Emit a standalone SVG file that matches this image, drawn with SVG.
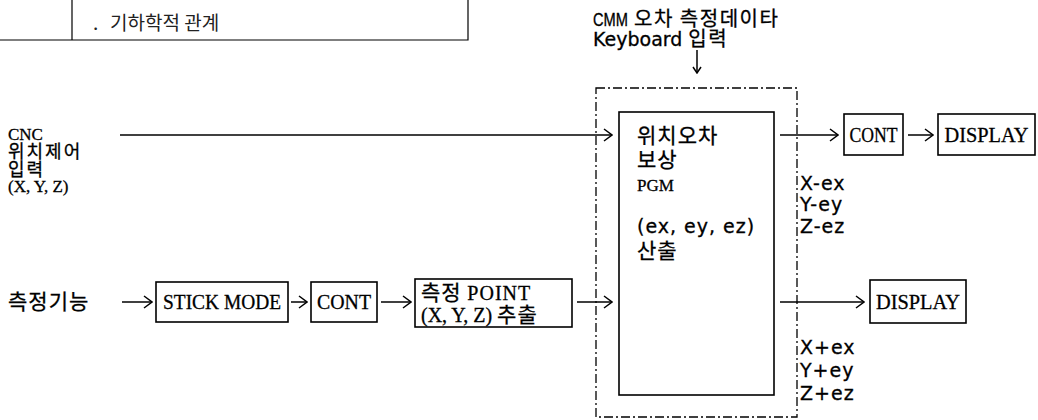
<svg xmlns="http://www.w3.org/2000/svg" width="1038" height="420" viewBox="0 0 1038 420">
<defs>
<marker id="ah" markerWidth="10" markerHeight="14" refX="9" refY="7" orient="auto" markerUnits="userSpaceOnUse">
<path d="M1,1 L9,7 L1,13" fill="none" stroke="#000" stroke-width="1.5"/>
</marker>
<marker id="ahs" markerWidth="8" markerHeight="10" refX="7" refY="5" orient="auto" markerUnits="userSpaceOnUse">
<path d="M1,1 L7,5 L1,9" fill="none" stroke="#000" stroke-width="1.5"/>
</marker>
</defs>
<style>
.bx{fill:#fff;stroke:#000;stroke-width:1.6}
.ln{fill:none;stroke:#000;stroke-width:1.5}
.thin{fill:none;stroke:#000;stroke-width:1.2}
.dash{fill:none;stroke:#000;stroke-width:1.3;stroke-dasharray:9 3 2 3}
text{stroke:#000;stroke-width:0.3}
.k{font-family:"Noto Sans CJK KR",sans-serif;font-size:21px;letter-spacing:1px;fill:#000}
.kc{font-family:"Noto Sans CJK KR",sans-serif;font-size:20px;letter-spacing:1.5px;fill:#000}
.ks{font-family:"Noto Sans CJK KR",sans-serif;font-size:18px;letter-spacing:2px;fill:#000}
.s{font-family:"Liberation Serif","Noto Sans CJK KR",serif;font-size:20px;fill:#000}
.sn{font-family:"Liberation Serif","Noto Sans CJK KR",serif;font-size:17px;fill:#000}
.m{font-family:"DejaVu Sans","Noto Sans CJK KR",sans-serif;font-size:19px;fill:#000}
.t{font-family:"Noto Sans CJK KR",sans-serif;font-size:19px;fill:#222;stroke:none}
</style>
<rect width="1038" height="420" fill="#fff"/>

<g id="legend">
<path class="thin" d="M0,40 H468 V0 M72,0 V40"/>
<text class="t" x="93" y="30">.</text>
<text class="t" x="110" y="30">기하학적 관계</text>
</g>

<g id="cmm-input">
<text class="m" x="593" y="26"><tspan font-family="Liberation Sans" font-size="18" textLength="35" lengthAdjust="spacingAndGlyphs">CMM</tspan> <tspan class="kc">오차 측정데이타</tspan></text>
<text class="m" x="593" y="46">Keyboard <tspan class="kc">입력</tspan></text>
</g>

<g id="cnc-input">
<text class="sn" x="8" y="140">CNC</text>
<text class="ks" x="8" y="158">위치제어</text>
<text class="ks" x="8" y="176">입력</text>
<text class="sn" x="8" y="192">(X, Y, Z)</text>
</g>

<g id="measure-func">
<text class="k" x="8" y="309" letter-spacing="3">측정기능</text>
</g>

<g id="stick-mode">
<rect class="bx" x="156" y="282" width="132" height="40"/>
<text class="s" x="222" y="309" text-anchor="middle" textLength="118" lengthAdjust="spacingAndGlyphs">STICK MODE</text>
</g>

<g id="cont-bottom">
<rect class="bx" x="311" y="282" width="66" height="40"/>
<text class="s" x="344" y="309" text-anchor="middle" textLength="54" lengthAdjust="spacingAndGlyphs">CONT</text>
</g>

<g id="measure-point">
<rect class="bx" x="415" y="279" width="157" height="48"/>
<text class="k" x="421" y="300">측정 <tspan class="s">POINT</tspan></text>
<text class="s" x="421" y="322">(X, Y, Z) <tspan class="k">추출</tspan></text>
</g>

<g id="compensation">
<rect class="dash" x="596" y="88" width="201" height="329"/>
<rect class="bx" x="619" y="112" width="155" height="283"/>
<text class="k" x="637" y="143">위치오차</text>
<text class="k" x="637" y="167">보상</text>
<text class="sn" x="637" y="191">PGM</text>
<text class="m" x="637" y="233" letter-spacing="1">(ex, ey, ez)</text>
<text class="k" x="637" y="258">산출</text>
</g>

<g id="cont-top">
<rect class="bx" x="844" y="114" width="59" height="41"/>
<text class="s" x="873.5" y="142" text-anchor="middle" textLength="48" lengthAdjust="spacingAndGlyphs">CONT</text>
</g>

<g id="display-top">
<rect class="bx" x="938" y="114" width="97" height="41"/>
<text class="s" x="986.5" y="142" text-anchor="middle" textLength="84" lengthAdjust="spacingAndGlyphs">DISPLAY</text>
</g>

<g id="display-bottom">
<rect class="bx" x="870" y="280" width="96" height="43"/>
<text class="s" x="918" y="309" text-anchor="middle" textLength="84" lengthAdjust="spacingAndGlyphs">DISPLAY</text>
</g>

<g id="output-minus">
<text class="m" x="800" y="190" letter-spacing="1">X-ex</text>
<text class="m" x="800" y="211" letter-spacing="1">Y-ey</text>
<text class="m" x="800" y="233" letter-spacing="1">Z-ez</text>
</g>

<g id="output-plus">
<text class="m" x="800" y="354" letter-spacing="1">X+ex</text>
<text class="m" x="800" y="377" letter-spacing="1">Y+ey</text>
<text class="m" x="800" y="400" letter-spacing="1">Z+ez</text>
</g>

<g id="connectors">
<line class="ln" x1="697" y1="50" x2="697" y2="73" marker-end="url(#ahs)"/>
<line class="ln" x1="120" y1="135" x2="612" y2="135" marker-end="url(#ah)"/>
<line class="ln" x1="780" y1="135" x2="838" y2="135" marker-end="url(#ah)"/>
<line class="ln" x1="908" y1="135" x2="933" y2="135" marker-end="url(#ah)"/>
<line class="ln" x1="122" y1="302" x2="152" y2="302" marker-end="url(#ah)"/>
<line class="ln" x1="291" y1="302" x2="307" y2="302" marker-end="url(#ah)"/>
<line class="ln" x1="381" y1="302" x2="411" y2="302" marker-end="url(#ah)"/>
<line class="ln" x1="577" y1="302" x2="612" y2="302" marker-end="url(#ah)"/>
<line class="ln" x1="780" y1="302" x2="864" y2="302" marker-end="url(#ah)"/>
</g>
</svg>
